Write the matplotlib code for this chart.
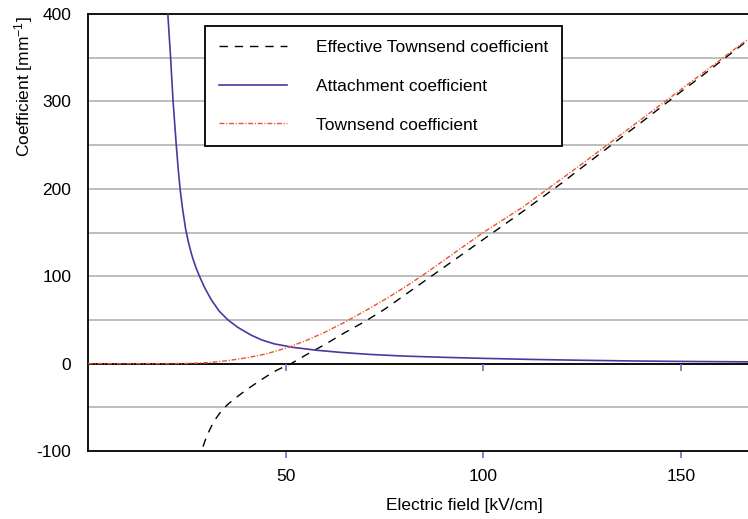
import matplotlib
matplotlib.use("Agg")
import matplotlib.pyplot as plt

plt.rcParams["font.family"] = ["Liberation Sans", "DejaVu Sans"]
plt.rcParams["mathtext.default"] = "regular"
plt.rcParams["axes.unicode_minus"] = False

# Townsend (ionisation) coefficient vs field
townsend_x = [0, 5, 10, 15, 20, 25, 30, 35, 40, 45, 50, 55, 60, 65, 70, 75, 80,
              85, 90, 95, 100, 105, 110, 115, 120, 125, 130, 135, 140, 145, 150,
              155, 160, 165, 167]
townsend_y = [0, 0, 0, 0, 0, 0.2, 1.0, 3.2, 6.5, 11, 17.5, 26, 36, 47.5, 60,
              73, 87, 102, 118, 134, 150, 164.5, 179, 195.5, 212, 228.5, 245.5,
              262.5, 279.5, 296.5, 313.5, 330.5, 347.5, 364.5, 371]

# attachment coefficient
attach_x = [19.9, 20.2, 20.9, 21.5, 22.3, 22.8, 23.3, 23.9, 24.7, 25.5, 26.4,
            27.3, 28.2, 29.5, 31.2, 33.2, 35.4, 37.9, 41.3, 44, 47.2, 52, 58,
            64, 71.3, 80, 90, 100, 112, 125, 138, 150, 160, 167]
attach_y = [423, 400, 350, 302, 252, 224, 200, 178, 154, 137, 122, 110, 100,
            87, 73, 60, 50, 41.5, 32.5, 27, 22.5, 18.5, 15.2, 12.8, 10.5, 8.6,
            7.2, 6.0, 4.8, 3.8, 3.0, 2.5, 2.2, 2.0]

# effective Townsend coefficient
eff_x = [29.1, 29.8, 30.5, 31.3, 32.2, 33.2, 34.1, 35.4, 37, 38.8, 40.9, 43,
         45.2, 47.6, 49.5, 51.4, 55, 60, 65, 70, 75, 80, 85, 90, 95, 100,
         105, 110, 115, 120, 125, 130, 135, 140, 145, 150, 155, 160, 165, 167]
eff_y = [-95, -86, -78.5, -71, -64, -57.5, -52.5, -46.5, -40.5, -34.3, -27.5,
         -21, -14.5, -8, -3.8, 0, 9.5, 22, 35.5, 48, 62, 78, 94, 110, 126, 142,
         158, 174, 190.5, 207, 224.5, 241.7, 259, 276, 293.5, 311, 328, 345.5,
         363, 370]

x_ticks = [50, 100, 150]
y_ticks = [-100, 0, 100, 200, 300, 400]
y_grid = [-50, 0, 50, 100, 150, 200, 250, 300, 350]

PURPLE = "#4f35a0"
RED = "#e8542e"
TICK = "#7a68b8"
FS = 12.5

fig = plt.figure(figsize=(7.48, 5.19), dpi=100)
ax = fig.add_axes([88 / 748, 1 - 451 / 519, 660 / 748, 437 / 519])

ax.set_xlim(0, 167)
ax.set_ylim(-100, 400)

for g in y_grid:
    ax.axhline(g, color="#b3b3b3", lw=1.2, zorder=0)
ax.axhline(0, color="black", lw=1.3, zorder=1)
ax.vlines(x_ticks, -8, 0, color=TICK, lw=1.2, zorder=1)

ax.plot(eff_x, eff_y, color="black", lw=1.0, ls=(0, (6, 5)),
        label="Effective Townsend coefficient", zorder=3)
ax.plot(attach_x, attach_y, color=PURPLE, lw=1.2,
        label="Attachment coefficient", zorder=3)
ax.plot(townsend_x, townsend_y, color=RED, lw=1.0, ls=(0, (3.5, 1.3, 0.8, 1.3)),
        label="Townsend coefficient", zorder=4)

ax.set_xticks(x_ticks)
ax.set_yticks(y_ticks)
ax.tick_params(axis="x", length=5, width=1.2, color=TICK, pad=8, labelsize=FS)
ax.tick_params(axis="y", length=0, pad=12, labelsize=FS)

for side in ["top", "left", "bottom"]:
    ax.spines[side].set_linewidth(1.3)
    ax.spines[side].set_color("black")
ax.spines["right"].set_visible(False)

ax.set_xlabel("Electric field [kV/cm]", fontsize=FS)
ax.xaxis.set_label_coords(0.571, -0.1075)
ax.set_ylabel("Coefficient [mm$^{-1}$]", fontsize=FS)
ax.yaxis.set_label_coords(-0.081, 0.835)

leg = ax.legend(loc="upper left", bbox_to_anchor=(205 / 748, 1 - 26 / 519),
                bbox_transform=fig.transFigure, fontsize=FS, frameon=True,
                fancybox=False, edgecolor="black", borderpad=0.8,
                labelspacing=1.36, handlelength=3.9, handletextpad=1.7,
                borderaxespad=0)
leg.get_frame().set_linewidth(1.3)
leg.get_frame().set_alpha(1)

fig.savefig("out.png", dpi=100)
